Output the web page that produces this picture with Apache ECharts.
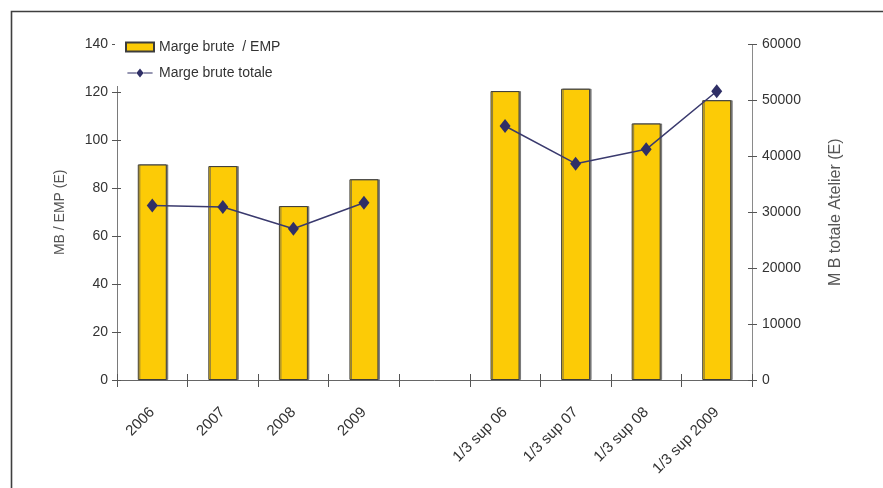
<!DOCTYPE html>
<html>
<head>
<meta charset="utf-8">
<script src="https://cdn.jsdelivr.net/npm/echarts@6/dist/echarts.min.js"></script>
<style>
  html, body { margin: 0; padding: 0; background: #fff; }
  #chart { width: 883px; height: 488px; }
</style>
</head>
<body>
<div id="chart"></div>
<script>
// Categories: four years, an empty slot, then the "1/3 sup" group
const categories = ['2006', '2007', '2008', '2009', '', '1/3 sup 06', '1/3 sup 07', '1/3 sup 08', '1/3 sup 2009'];
// Gross margin per EMP (left axis)
const margeParEmp = [90.0, 89.3, 72.6, 83.8, '-', 120.6, 121.6, 107.1, 116.8];
// Total gross margin of the workshop (right axis)
const margeTotale = [31200, 30950, 27070, 31720, '-', 45440, 38700, 41270, 51650];
// Axis ranges
const leftMax = 140, leftStep = 20;
const rightMax = 60000, rightStep = 10000;

const FONT = "'Liberation Sans', Arial, sans-serif";
const chart = echarts.init(document.getElementById('chart'));

const axisGrey = '#7a7a7a';
const tickColor = '#555';
const clear = 'rgba(0,0,0,0)';
const labelStyle = { color: '#333', fontSize: 14, fontFamily: FONT };
const plotRect = { left: 117, right: 131, top: 44.6, bottom: 108 };
// legend glyph for the line series: thin line crossed by a diamond
const lineDiamondIcon = 'path://M0,4.4h10v1.2h-10z M14,0 L18,5 L14,10 L10,5 Z M18,4.4h10v1.2h-10z';

chart.setOption({
  animation: false,
  backgroundColor: '#fff',
  textStyle: { fontFamily: FONT },
  // grid 0 holds the data; grid 1 overlays it and only carries the inward half of the tick marks
  grid: [Object.assign({}, plotRect), Object.assign({}, plotRect)],
  legend: {
    orient: 'vertical',
    left: 115, top: 34,
    backgroundColor: '#fff',
    padding: [6, 8, 6, 10],
    itemWidth: 28, itemHeight: 9, itemGap: 12,
    textStyle: { color: '#333', fontSize: 14, fontFamily: FONT },
    data: [
      { name: 'Marge brute  / EMP', icon: 'rect' },
      { name: 'Marge brute totale', icon: lineDiamondIcon, itemStyle: { color: '#2f2f66', borderWidth: 0 } }
    ]
  },
  xAxis: [
    {
      type: 'category', data: categories, position: 'bottom', gridIndex: 0,
      axisLine: { lineStyle: { color: '#666', width: 1 } },
      axisTick: { show: true, interval: 0, inside: false, length: 7, lineStyle: { color: tickColor } },
      axisLabel: Object.assign({ rotate: 45, interval: 0, margin: 30 }, labelStyle, { fontSize: 15 }),
      splitLine: { show: false }
    },
    {
      type: 'category', data: categories, position: 'bottom', gridIndex: 1,
      axisLine: { show: true, lineStyle: { color: clear } },
      axisTick: { show: true, interval: 0, inside: true, length: 6, lineStyle: { color: tickColor } },
      axisLabel: { show: false, interval: 0 },
      splitLine: { show: false }
    }
  ],
  yAxis: [
    {
      type: 'value', position: 'left', gridIndex: 0, min: 0, max: leftMax, interval: leftStep,
      name: 'MB / EMP (E)', nameLocation: 'middle', nameRotate: 90, nameGap: 50,
      nameTextStyle: { color: '#555', fontSize: 14, fontFamily: FONT },
      axisLine: { show: true, lineStyle: { color: axisGrey } },
      axisTick: { show: true, inside: false, length: 5, lineStyle: { color: tickColor } },
      axisLabel: Object.assign({ margin: 9 }, labelStyle),
      splitLine: { show: false }
    },
    {
      type: 'value', position: 'right', gridIndex: 0, min: 0, max: rightMax, interval: rightStep,
      name: 'M B totale Atelier (E)', nameLocation: 'middle', nameRotate: 90, nameGap: 76,
      nameTextStyle: { color: '#555', fontSize: 16, fontFamily: FONT },
      axisLine: { show: true, lineStyle: { color: '#8a8a8a' } },
      axisTick: { show: true, inside: false, length: 5, lineStyle: { color: tickColor } },
      axisLabel: Object.assign({ margin: 10, formatter: v => String(v) }, labelStyle),
      splitLine: { show: false }
    },
    {
      type: 'value', position: 'left', gridIndex: 1, min: 0, max: leftMax, interval: leftStep,
      axisLine: { show: true, lineStyle: { color: clear } },
      axisTick: { show: true, inside: true, length: 4, lineStyle: { color: tickColor } },
      axisLabel: { show: false }, splitLine: { show: false }
    },
    {
      type: 'value', position: 'right', gridIndex: 1, min: 0, max: rightMax, interval: rightStep,
      axisLine: { show: true, lineStyle: { color: clear } },
      axisTick: { show: true, inside: true, length: 4, lineStyle: { color: tickColor } },
      axisLabel: { show: false }, splitLine: { show: false }
    }
  ],
  series: [
    {
      name: 'Marge brute  / EMP', type: 'bar',
      xAxisIndex: 0, yAxisIndex: 0,
      data: margeParEmp, barWidth: 29,
      itemStyle: {
        color: '#FCCB06', borderColor: '#3c3c3c', borderWidth: 1,
        shadowColor: 'rgba(90,90,90,0.7)', shadowOffsetX: 1.5, shadowOffsetY: 0, shadowBlur: 0
      }
    },
    {
      name: 'Marge brute totale', type: 'line',
      xAxisIndex: 0, yAxisIndex: 1,
      data: margeTotale, connectNulls: false,
      symbol: 'diamond', symbolSize: [11, 14],
      lineStyle: { color: '#3a3a6e', width: 1.5 },
      itemStyle: { color: '#2f2f66' },
      z: 5
    },
    {
      // empty series that keeps the tick-only overlay grid alive
      name: 'ticks', type: 'line', xAxisIndex: 1, yAxisIndex: 2,
      data: [], silent: true, showSymbol: false
    }
  ],
  graphic: [
    {
      type: 'polyline', silent: true, z: 100,
      shape: { points: [[11.5, 488], [11.5, 11.5], [883, 11.5]] },
      style: { stroke: '#3f3f3f', lineWidth: 1.6, fill: null }
    }
  ]
});
</script>
</body>
</html>
